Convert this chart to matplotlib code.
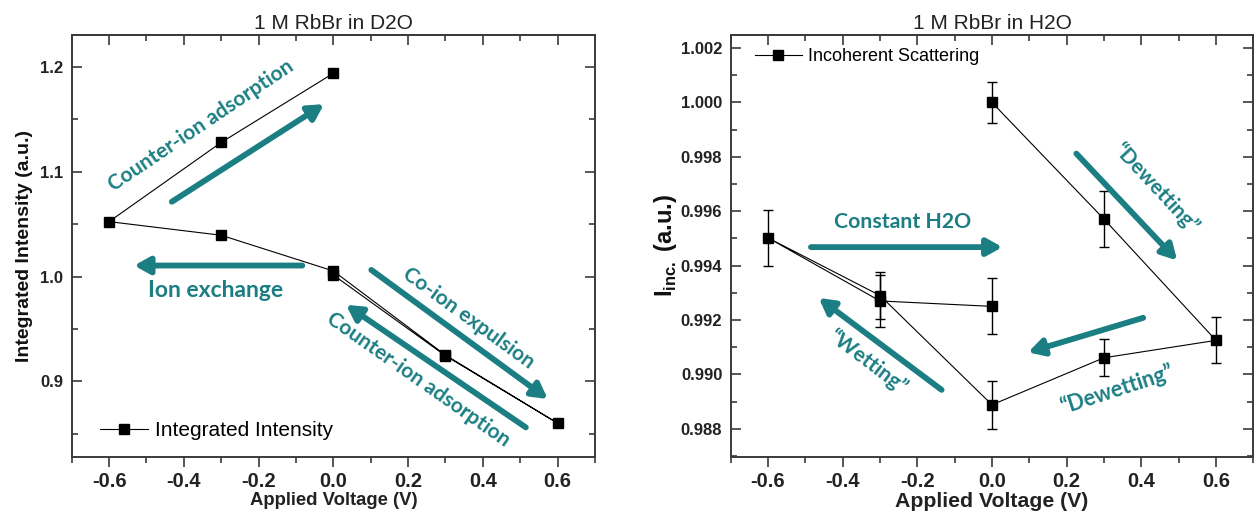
import matplotlib
matplotlib.use("Agg")
import matplotlib.pyplot as plt
from matplotlib.ticker import MultipleLocator, FormatStrFormatter
from matplotlib.lines import Line2D

# ---------------- data ----------------
# Left panel: 1 M RbBr in D2O (cycle order)
d2o_voltage = [0.0, 0.3, 0.6, 0.3, 0.0, -0.3, -0.6, -0.3, 0.0]
d2o_intensity = [1.0015, 0.9244, 0.860, 0.9250, 1.0053, 1.0394, 1.0524, 1.128, 1.194]

# Right panel: 1 M RbBr in H2O (cycle order)
h2o_voltage = [0.0, 0.3, 0.6, 0.3, 0.0, -0.3, -0.6, -0.3, 0.0]
h2o_inc = [1.0000, 0.99571, 0.99125, 0.99061, 0.98888, 0.99290, 0.99502, 0.99270, 0.99250]
h2o_err = [0.00075, 0.00104, 0.00085, 0.00068, 0.00088, 0.00085, 0.00103, 0.00095, 0.00103]

x_ticks = [-0.6, -0.4, -0.2, 0.0, 0.2, 0.4, 0.6]
left_yticks = [0.9, 1.0, 1.1, 1.2]
right_yticks = [0.988, 0.990, 0.992, 0.994, 0.996, 0.998, 1.000, 1.002]

TEAL = "#1B7E83"
SANS = ["Liberation Sans", "DejaVu Sans"]
ANN = ["Lato", "DejaVu Sans"]
SPINE = "#3a3a3a"

fig = plt.figure(figsize=(12.6, 5.13), dpi=100)
axL = fig.add_axes([0.0569, 0.1097, 0.4153, 0.8230])
axR = fig.add_axes([0.5799, 0.1097, 0.4148, 0.8230])


def style_axes(ax, yfs):
    ax.set_xlim(-0.7, 0.7)
    ax.set_xticks(x_ticks)
    ax.xaxis.set_minor_locator(MultipleLocator(0.1))
    ax.xaxis.set_major_formatter(FormatStrFormatter("%.1f"))
    ax.tick_params(axis="x", which="both", bottom=True, top=False, direction="out",
                   color=SPINE)
    ax.tick_params(axis="x", which="major", length=7, width=1.2, labelsize=14.5, pad=4)
    ax.tick_params(axis="x", which="minor", length=4, width=1.2)
    ax.tick_params(axis="y", which="both", left=True, right=True, direction="in",
                   color=SPINE)
    ax.tick_params(axis="y", which="major", length=7, width=1.2, labelsize=yfs, pad=6)
    ax.tick_params(axis="y", which="minor", length=4, width=1.2)
    for lab in ax.get_xticklabels() + ax.get_yticklabels():
        lab.set_fontfamily(SANS)
        lab.set_fontweight("bold")
        lab.set_color("#222222")
    for s in ax.spines.values():
        s.set_linewidth(1.4)
        s.set_color(SPINE)
    top = ax.secondary_xaxis("top")
    top.set_xticks(x_ticks)
    top.xaxis.set_minor_locator(MultipleLocator(0.1))
    top.tick_params(axis="x", which="both", direction="in", labeltop=False, color=SPINE)
    top.tick_params(axis="x", which="major", length=7, width=1.2)
    top.tick_params(axis="x", which="minor", length=4, width=1.2)
    top.spines["top"].set_linewidth(1.4)
    top.spines["top"].set_color(SPINE)


def arrow(ax, start, end):
    ax.annotate("", xy=end, xytext=start,
                arrowprops=dict(arrowstyle="-|>,head_length=0.9,head_width=0.5",
                                lw=4.2, color=TEAL, shrinkA=0, shrinkB=0))


def label(ax, x, y, s, rot, fs=15):
    ax.text(x, y, s, rotation=rot, rotation_mode="anchor", ha="center", va="center",
            color=TEAL, fontsize=fs, fontweight="bold", family=ANN)


# ---------------- left panel ----------------
axL.plot(d2o_voltage, d2o_intensity, color="black", lw=0.8, marker="s",
         markersize=7, markerfacecolor="black", markeredgecolor="black")
axL.set_ylim(0.828, 1.231)
axL.set_yticks(left_yticks)
axL.yaxis.set_minor_locator(MultipleLocator(0.05))
axL.yaxis.set_major_formatter(FormatStrFormatter("%.1f"))
style_axes(axL, 12)
axL.set_title("1 M RbBr in D2O", fontsize=15, family=SANS, pad=4, color="#222222")
axL.set_xlabel("Applied Voltage (V)", fontsize=13.3, fontweight="bold", family=SANS,
               labelpad=1, color="#222222")
axL.set_ylabel("Integrated Intensity (a.u.)", fontsize=14, fontweight="bold", family=SANS,
               labelpad=5, color="#111111")
hL = Line2D([], [], color="black", lw=0.8, marker="s", markersize=7,
            markerfacecolor="black")
axL.legend([hL], ["Integrated Intensity"], loc="center left", bbox_to_anchor=(0.038, 0.061),
           borderaxespad=0, frameon=False, prop={"family": SANS, "size": 15},
           handlelength=2.3, handletextpad=0.34)

arrow(axL, (-0.432, 1.0714), (-0.025, 1.1645))
label(axL, -0.355, 1.1445, "Counter-ion adsorption", 34)
arrow(axL, (-0.083, 1.0105), (-0.533, 1.0105))
label(axL, -0.315, 0.9863, "Ion exchange", 0, fs=16.5)
arrow(axL, (0.1016, 1.0063), (0.5737, 0.8831))
label(axL, 0.362, 0.9603, "Co-ion expulsion", -36)
arrow(axL, (0.515, 0.856), (0.034, 0.973))
label(axL, 0.228, 0.902, "Counter-ion adsorption", -35)

# ---------------- right panel ----------------
axR.errorbar(h2o_voltage, h2o_inc, yerr=h2o_err, color="black", lw=0.8, marker="s",
             markersize=7, markerfacecolor="black", markeredgecolor="black",
             ecolor="black", elinewidth=1.0, capsize=3.6, capthick=1.0)
axR.set_ylim(0.98697, 1.0025)
axR.set_yticks(right_yticks)
axR.yaxis.set_minor_locator(MultipleLocator(0.001))
axR.yaxis.set_major_formatter(FormatStrFormatter("%.3f"))
style_axes(axR, 12)
axR.set_title("1 M RbBr in H2O", fontsize=15, family=SANS, pad=4, color="#222222")
axR.set_xlabel("Applied Voltage (V)", fontsize=15.3, fontweight="bold", family=SANS,
               labelpad=1, color="#222222")
axR.set_ylabel(r"I$_{\mathregular{inc.}}$ (a.u.)", fontsize=17, fontweight="bold",
               family=SANS, labelpad=1, color="#111111")
hR = Line2D([], [], color="black", lw=0.8, marker="s", markersize=7,
            markerfacecolor="black")
axR.legend([hR], ["Incoherent Scattering"], loc="center left", bbox_to_anchor=(0.032, 0.947),
           borderaxespad=0, frameon=False, prop={"family": SANS, "size": 13},
           handlelength=2.6, handletextpad=0.34)

label(axR, -0.24, 0.99559, "Constant H2O", 0, fs=15.3)
arrow(axR, (-0.485, 0.99468), (0.028, 0.99468))
arrow(axR, (0.226, 0.99812), (0.496, 0.99419))
label(axR, 0.44, 0.99687, "\u201cDewetting\u201d", -47)
arrow(axR, (0.405, 0.99208), (0.0966, 0.99081))
label(axR, 0.333, 0.98943, "\u201cDewetting\u201d", 18, fs=15.5)
arrow(axR, (-0.135, 0.98943), (-0.464, 0.99281))
label(axR, -0.334, 0.99047, "\u201cWetting\u201d", -37)

fig.savefig("out.png", dpi=100)
